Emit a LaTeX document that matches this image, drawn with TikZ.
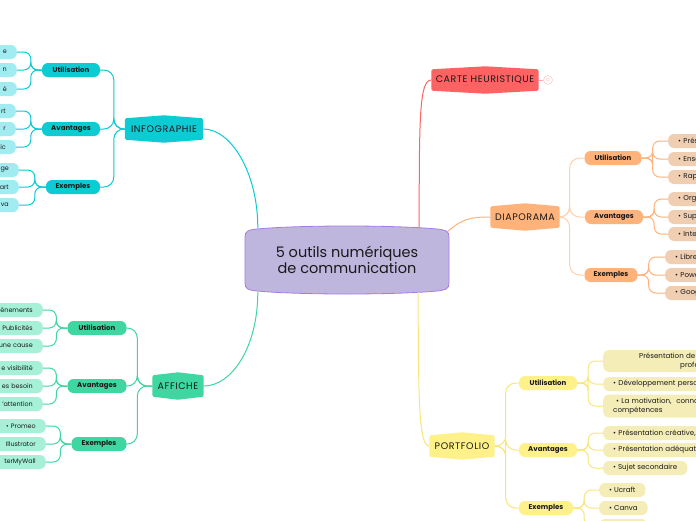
\documentclass[tikz,border=0pt]{standalone}
\usepackage{fontspec}
\setmainfont{Poppins}
\newfontfamily\spaced[LetterSpace=6]{Poppins}
\usetikzlibrary{backgrounds}

\definecolor{rootfill}{RGB}{190,182,220}
\definecolor{rootline}{RGB}{168,122,232}
\definecolor{infoC}{RGB}{12,203,211}
\definecolor{infoL}{RGB}{160,236,241}
\definecolor{affC}{RGB}{64,214,161}
\definecolor{affL}{RGB}{165,240,214}
\definecolor{carteC}{RGB}{255,98,98}
\definecolor{diapoC}{RGB}{255,178,122}
\definecolor{diapoL}{RGB}{240,206,178}
\definecolor{portC}{RGB}{255,241,138}
\definecolor{portL}{RGB}{245,237,184}
\definecolor{portLine}{RGB}{250,230,120}
\definecolor{ink}{RGB}{25,25,25}

\tikzset{
  branch/.style={font=\spaced\fontsize{9.5}{10}\selectfont, inner sep=0pt, minimum height=27, text=ink},
  subbox/.style={rounded corners=6, minimum height=14, inner sep=0pt, font=\fontsize{7}{8}\selectfont\bfseries, text=ink},
  leaf/.style={rounded corners=6, minimum height=14, inner xsep=10, inner ysep=0pt, font=\fontsize{7.1}{9.5}\selectfont, text=ink},
  cutL/.style={leaf, anchor=east, text width=70, align=right, font=\fontsize{6.4}{9}\selectfont},
  cutR/.style={leaf, anchor=west, text width=150, align=left},
  conn/.style={line width=1},
}

\begin{document}
\begin{tikzpicture}[x=1pt,y=-1pt]
	\useasboundingbox (0,0) rectangle (696,520);
	\clip (0,0) rectangle (696,520);
	% centre
	\node[font=\fontsize{14.5}{16}\selectfont, align=center, text=ink, minimum width=204, minimum height=64] (root) at (347,260) {5 outils numériques\\ de communication};
	% branches
	\node[branch, minimum width=78] (info) at (164,129) {INFOGRAPHIE};
	\node[branch, minimum width=51] (affiche) at (178,386) {AFFICHE};
	\node[branch, minimum width=107] (carte) at (485,80) {CARTE HEURISTIQUE};
	\node[branch, minimum width=69] (diapo) at (525,217) {DIAPORAMA};
	\node[branch, minimum width=65] (portfolio) at (462,446) {PORTFOLIO};
	\node[circle, draw=carteC!45, inner sep=0pt, minimum size=9, font=\fontsize{4}{4}\selectfont, text=carteC!50] (carteN) at (548,80) {12};
	\draw[carteC!55, line width=0.8] (carte.east) -- (carteN);

	\draw[infoC, conn] ([xshift=13]root.north west) .. controls +(0,-55) and +(28,0) .. (info.east);
	\draw[affC, conn] ([xshift=13]root.south west) .. controls +(0,55) and +(28,0) .. (affiche.east);
	\draw[carteC, conn] ([xshift=-30]root.north east) .. controls +(0,-110) and +(-12,0) .. (carte.west);
	\draw[diapoC, conn] ([xshift=-2,yshift=-4]root.north east) .. controls +(14,-12) and +(-22,0) .. (diapo.west);
	\draw[portLine, conn] ([xshift=-31]root.south east) .. controls +(0,115) and +(-10,0) .. (portfolio.west);

	% INFOGRAPHIE
	\node[subbox, fill=infoC, minimum width=58] (infoU) at (71,70) {Utilisation};
	\node[subbox, fill=infoC, minimum width=58] (infoA) at (71,129) {Avantages};
	\node[subbox, fill=infoC, minimum width=54] (infoE) at (73,187) {Exemples};
	\node[cutL, fill=infoL] (iu1) at (17,52) {e};
	\node[cutL, fill=infoL] (iu2) at (17,70) {n};
	\node[cutL, fill=infoL] (iu3) at (17,89) {é};
	\node[cutL, fill=infoL] (ia1) at (16,111) {rt};
	\node[cutL, fill=infoL] (ia2) at (16,129) {r};
	\node[cutL, fill=infoL] (ia3) at (16,147) {ic};
	\node[cutL, fill=infoL] (ie1) at (19,170) {ge};
	\node[cutL, fill=infoL] (ie2) at (19,187) {art};
	\node[cutL, fill=infoL] (ie3) at (19,205) {va};
	\foreach \s in {infoU,infoA,infoE}
		\draw[infoC, conn, rounded corners=10] (info.west) -- ++(-11,0) |- (\s.east);
	\foreach \s/\l in {infoU/iu1,infoU/iu2,infoU/iu3,infoA/ia1,infoA/ia2,infoA/ia3,infoE/ie1,infoE/ie2,infoE/ie3}
		\draw[infoC, conn, rounded corners=7] (\s.west) -- ++(-11,0) |- (\l.east);

	% AFFICHE
	\node[subbox, fill=affC, minimum width=59] (affU) at (97,328) {Utilisation};
	\node[subbox, fill=affC, minimum width=59] (affA) at (97,386) {Avantages};
	\node[subbox, fill=affC, minimum width=55] (affE) at (99,444) {Exemples};
	\node[cutL, fill=affL] (au1) at (43,310) {énements};
	\node[cutL, fill=affL] (au2) at (43,328) {Publicités};
	\node[cutL, fill=affL] (au3) at (43,346) {une cause};
	\node[cutL, fill=affL] (aa1) at (43,368) {e visibilité};
	\node[cutL, fill=affL] (aa2) at (43,386) {es besoin};
	\node[cutL, fill=affL] (aa3) at (43,404) {'attention};
	\node[cutL, fill=affL] (ae1) at (46,426) {• Promeo};
	\node[cutL, fill=affL] (ae2) at (46,444) {Illustrator};
	\node[cutL, fill=affL] (ae3) at (46,462) {terMyWall};
	\foreach \s in {affU,affA,affE}
		\draw[affC, conn, rounded corners=10] (affiche.west) -- ++(-15,0) |- (\s.east);
	\foreach \s/\l in {affU/au1,affU/au2,affU/au3,affA/aa1,affA/aa2,affA/aa3,affE/ae1,affE/ae2,affE/ae3}
		\draw[affC, conn, rounded corners=7] (\s.west) -- ++(-11,0) |- (\l.east);

	% DIAPORAMA
	\node[subbox, fill=diapoC, minimum width=57] (diaU) at (613,158) {Utilisation};
	\node[subbox, fill=diapoC, minimum width=58] (diaA) at (614,217) {Avantages};
	\node[subbox, fill=diapoC, minimum width=53] (diaE) at (611,275) {Exemples};
	\node[cutR, fill=diapoL] (du1) at (668,141) {• Prés};
	\node[cutR, fill=diapoL] (du2) at (668,159) {• Ense};
	\node[cutR, fill=diapoL] (du3) at (668,177) {• Rap};
	\node[cutR, fill=diapoL] (da1) at (668,199) {• Org};
	\node[cutR, fill=diapoL] (da2) at (668,217) {• Sup};
	\node[cutR, fill=diapoL] (da3) at (668,234) {• Inte};
	\node[cutR, fill=diapoL] (de1) at (665,257) {• Libre};
	\node[cutR, fill=diapoL] (de2) at (665,275) {• Powe};
	\node[cutR, fill=diapoL] (de3) at (665,293) {• Goog};
	\foreach \s in {diaU,diaA,diaE}
		\draw[diapoC!60, conn, rounded corners=10] (diapo.east) -- ++(10,0) |- (\s.west);
	\foreach \s/\l in {diaU/du1,diaU/du2,diaU/du3,diaA/da1,diaA/da2,diaA/da3,diaE/de1,diaE/de2,diaE/de3}
		\draw[diapoC, conn, rounded corners=7] (\s.east) -- ++(11,0) |- (\l.west);

	% PORTFOLIO
	\node[subbox, fill=portC, minimum width=58] (porU) at (548,383) {Utilisation};
	\node[subbox, fill=portC, minimum width=58] (porA) at (548,450) {Avantages};
	\node[subbox, fill=portC, minimum width=54] (porE) at (546,508) {Exemples};
	\node[cutR, fill=portL, minimum height=22] (pu1) at (603,361) {\hspace*{26pt}Présentation de t\\\hspace*{67pt}profe};
	\node[cutR, fill=portL] (pu2) at (603,384) {• Développement person};
	\node[cutR, fill=portL, minimum height=23] (pu3) at (603,406) {\hspace*{3pt}• La motivation,\ \ conna\\compétences};
	\node[cutR, fill=portL] (pa1) at (603,433) {• Présentation créative, r};
	\node[cutR, fill=portL] (pa2) at (603,450) {• Présentation adéquate};
	\node[leaf, anchor=west, fill=portL] (pa3) at (603,468) {• Sujet secondaire};
	\node[leaf, anchor=west, fill=portL] (pe1) at (599,490) {• Ucraft};
	\node[leaf, anchor=west, fill=portL] (pe2) at (599,508) {• Canva};
	\node[leaf, anchor=west, fill=portL, minimum width=48] (pe3) at (599,526) {};
	\foreach \s in {porU,porA,porE}
		\draw[portLine, conn, rounded corners=10] (portfolio.east) -- ++(11,0) |- (\s.west);
	\foreach \s/\l in {porU/pu1,porU/pu2,porU/pu3,porA/pa1,porA/pa2,porA/pa3,porE/pe1,porE/pe2,porE/pe3}
		\draw[portLine, conn, rounded corners=7] (\s.east) -- ++(11,0) |- (\l.west);

	% fonds
	\begin{pgfonlayer}{background}
		\fill[white] (0,0) rectangle (696,520);
		\filldraw[fill=rootfill, draw=rootline, line width=0.8]
			(245,237) .. controls (245,231) and (248,230) .. (257,229)
			.. controls (300,225) and (394,225) .. (437,229)
			.. controls (446,230) and (449,231) .. (449,237) -- (449,283)
			.. controls (449,289) and (446,290) .. (437,291)
			.. controls (394,295) and (300,295) .. (257,291)
			.. controls (248,290) and (245,289) .. (245,283) -- cycle;
		\foreach \n/\c in {info/infoC,affiche/affC,carte/carteC,diapo/diapoC,portfolio/portC}
			\fill[\c, rounded corners=1.5] ([yshift=-3]\n.north west) -- (\n.north) -- ([yshift=-3]\n.north east)
				-- ([yshift=3]\n.south east) -- (\n.south) -- ([yshift=3]\n.south west) -- cycle;
	\end{pgfonlayer}
\end{tikzpicture}
\end{document}
